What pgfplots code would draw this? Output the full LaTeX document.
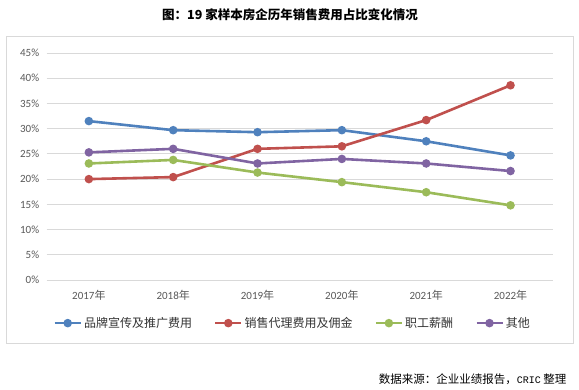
\documentclass[border=0pt]{standalone}
\usepackage{fontspec}
\usepackage{pgfplots}
\pgfplotsset{compat=1.18}
\setmainfont{Carlito}
\newfontfamily\cjk{Noto Sans CJK SC}
\newfontfamily\mono{Liberation Mono}
\definecolor{cblue}{HTML}{4F81BD}
\definecolor{cred}{HTML}{C0504D}
\definecolor{cgreen}{HTML}{9BBB59}
\definecolor{cpurple}{HTML}{8064A2}
\definecolor{gridc}{HTML}{D9D9D9}
\definecolor{tickc}{HTML}{595959}
\begin{document}
\begin{tikzpicture}
\useasboundingbox (0pt,0pt) rectangle (579pt,390pt);
\fill[white] (0pt,0pt) rectangle (579pt,390pt);
\draw[gridc, line width=0.8pt] (6pt,47pt) rectangle (573pt,354pt);
\node[font=\cjk\bfseries\fontsize{12.5}{14}\selectfont, text=black] at (290pt,375pt) {图：19 家样本房企历年销售费用占比变化情况};
\node[anchor=east, font=\fontsize{11.5}{13}\selectfont, text=black] at (570pt,11pt) {{\cjk 数据来源：企业业绩报告，}{\mono\fontsize{10}{12}\selectfont CRIC} {\cjk 整理}};
\begin{axis}[
  at={(46.7pt,110pt)}, anchor=south west,
  scale only axis, width=506pt, height=227pt,
  xmin=-0.5, xmax=5.5, ymin=0, ymax=45,
  xtick={0,1,2,3,4,5},
  xticklabels={2017{\cjk 年},2018{\cjk 年},2019{\cjk 年},2020{\cjk 年},2021{\cjk 年},2022{\cjk 年}},
  ytick={0,5,...,45},
  yticklabel={\pgfmathprintnumber{\tick}\%},
  /pgf/number format/assume math mode=true,
  ticklabel style={font=\fontsize{11}{13}\selectfont, text=tickc},
  xticklabel style={yshift=-7pt},
  yticklabel style={xshift=-4pt},
  major tick length=0pt,
  axis line style={draw=none},
  ymajorgrids, grid style={gridc, line width=0.8pt},
  legend columns=-1,
  legend style={at={(0.486,-0.19)}, anchor=center, draw=none, fill=none,
    font=\cjk\fontsize{12}{14}\selectfont, text=black!80,
    /tikz/every even column/.append style={column sep=20pt},
    inner xsep=0pt, inner ysep=0pt},
  legend image code/.code={\draw[mark repeat=2,mark phase=2,#1] plot coordinates {(0pt,0pt)(13pt,0pt)(26pt,0pt)};},
  every axis plot/.append style={line width=2.6pt, mark=*, mark size=2.9pt},
  clip=false,
]
\addplot[cblue, mark options={fill=cblue, draw=cblue}] coordinates {(0,31.5)(1,29.7)(2,29.3)(3,29.7)(4,27.5)(5,24.7)};
\addlegendentry{品牌宣传及推广费用}
\addplot[cred, mark options={fill=cred, draw=cred}] coordinates {(0,20.0)(1,20.4)(2,26.0)(3,26.5)(4,31.7)(5,38.6)};
\addlegendentry{销售代理费用及佣金}
\addplot[cgreen, mark options={fill=cgreen, draw=cgreen}] coordinates {(0,23.1)(1,23.8)(2,21.3)(3,19.4)(4,17.4)(5,14.8)};
\addlegendentry{职工薪酬}
\addplot[cpurple, mark options={fill=cpurple, draw=cpurple}] coordinates {(0,25.3)(1,26.0)(2,23.1)(3,24.0)(4,23.1)(5,21.6)};
\addlegendentry{其他}
\end{axis}
\end{tikzpicture}
\end{document}
